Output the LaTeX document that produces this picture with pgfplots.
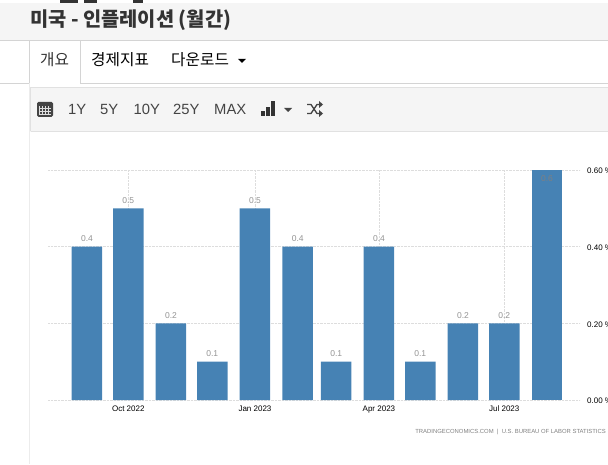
\documentclass[border=0pt]{standalone}
\usepackage{fontspec}
\setmainfont{Liberation Sans}
\newfontfamily\cjk{Noto Sans CJK KR}
\usepackage{pgfplots}
\pgfplotsset{compat=1.18}

\definecolor{barblue}{HTML}{4682B4}
\definecolor{panel}{HTML}{F5F5F5}
\definecolor{rulegray}{HTML}{D4D4D4}
\definecolor{ink}{HTML}{333333}
\definecolor{gridgray}{HTML}{DDDDDD}
\definecolor{toolink}{HTML}{444444}

% x in days from 1 Oct 2022, keeps the uneven month spacing
\pgfplotstableread{
day val
-30 0.4
0 0.5
31 0.2
61 0.1
92 0.5
123 0.4
151 0.1
182 0.4
212 0.1
243 0.2
273 0.2
}\monthly
\pgfplotstableread{
day val
304 0.6
}\lastmonth

\begin{document}
\begin{tikzpicture}[x=1pt,y=1pt,inner sep=0pt]
\clip (0,0) rectangle (608,464);
\path (0,0) rectangle (608,464);

% page header and tabs
\fill[panel] (0,424) rectangle (608,461);
\fill[ink] (60,461) rectangle (78,464);
\fill[ink] (84,461) rectangle (97,464);
\fill[ink] (133,461) rectangle (143,464);
\draw[rulegray] (0,423.5) -- (608,423.5);
\draw[rulegray] (0,380.5) -- (29.5,380.5) -- (29.5,423.5);
\draw[rulegray] (80.5,423.5) -- (80.5,380.5) -- (608,380.5);
\draw[gray!15] (29.5,380.5) -- (29.5,0);
\node[anchor=base west,text=ink,font=\cjk\bfseries\fontsize{19.8}{22}\selectfont] at (30,437) {미국 - 인플레이션 (월간)};
\node[anchor=base west,text=ink,font=\cjk\fontsize{15.7}{18}\selectfont] at (40,398) {개요};
\node[anchor=base west,text=black,font=\cjk\fontsize{15.7}{18}\selectfont] at (91,398) {경제지표};
\node[anchor=base west,text=black,font=\cjk\fontsize{15.7}{18}\selectfont] at (171,398) {다운로드};
\fill[black] (238,405) -- (246,405) -- (242,401) -- cycle;

% toolbar
\fill[panel] (30,332) rectangle (608,377);
\draw[rulegray!70] (30.5,332.5) -- (30.5,376.5) -- (608,376.5);
\draw[rulegray!70] (30.5,332.5) -- (608,332.5);
\fill[toolink,rounded corners=1.5pt] (37,347) rectangle (53,362);
\fill[panel!80!gray] (39,349) rectangle (51,358);
\foreach \cx in {40,43,46,49} \foreach \cy in {350,353,356} \fill[toolink] (\cx,\cy) rectangle ++(2,2);
\foreach \lx/\lab in {68/1Y,100/5Y,133.5/10Y,173/25Y,214/MAX}
  \node[anchor=base west,text=toolink,font=\fontsize{14.8}{16}\selectfont] at (\lx,349) {\lab};
\fill[ink] (261,348) rectangle (265,353);
\fill[ink] (266,348) rectangle (270,357);
\fill[ink] (271,348) rectangle (275,363);
\fill[toolink] (284,356) -- (292,356) -- (288,352) -- cycle;
\draw[toolink,line width=1.3pt] (307,350.5) -- (311,350.5) -- (317,359.5) -- (320,359.5);
\draw[toolink,line width=1.3pt] (307,359.5) -- (311,359.5) -- (317,350.5) -- (320,350.5);
\fill[toolink] (319,363) -- (323,359.5) -- (319,356) -- cycle;
\fill[toolink] (319,354) -- (323,350.5) -- (319,347) -- cycle;

\begin{axis}[
    at={(48pt,64pt)},anchor=south west,
    scale only axis,
    width=532pt,height=230pt,
    xmin=-58.3,xmax=328,
    ymin=0,ymax=0.6,
    axis line style={draw=none},
    axis y line*=right,
    axis x line*=bottom,
    xtick={0,92,182,273},
    xticklabels={Oct 2022,Jan 2023,Apr 2023,Jul 2023},
    ytick={0,0.2,0.4,0.6},
    yticklabels={0.00 \%,0.20 \%,0.40 \%,0.60 \%},
    grid=major,
    x grid style={densely dotted,gridgray},
    y grid style={densely dotted,gridgray},
    tick style={draw=none},
    tick label style={font=\fontsize{8}{9}\selectfont,text=black,inner sep=0pt},
    xticklabel style={yshift=-1.5pt},
    yticklabel style={xshift=7pt,yshift=-1pt,anchor=west},
    ybar,
    bar width=30.5pt,
    bar shift=0pt,
    clip=false,
    nodes near coords,
    point meta=explicit symbolic,
    every node near coord/.append style={font=\fontsize{8.5}{9}\selectfont,text=gray!85,inner sep=0pt,yshift=5pt},
]
\addplot[fill=barblue,draw=none] table[x=day,y=val,meta=val] {\monthly};
\addplot[fill=barblue,draw=none,
    nodes near coords style={yshift=-17pt,text=gray}] table[x=day,y=val,meta=val] {\lastmonth};
\end{axis}

\node[anchor=base east,text=gray,font=\fontsize{5.9}{7}\selectfont] at (606,31) {TRADINGECONOMICS.COM \ | \ U.S. BUREAU OF LABOR STATISTICS};
\end{tikzpicture}
\end{document}
